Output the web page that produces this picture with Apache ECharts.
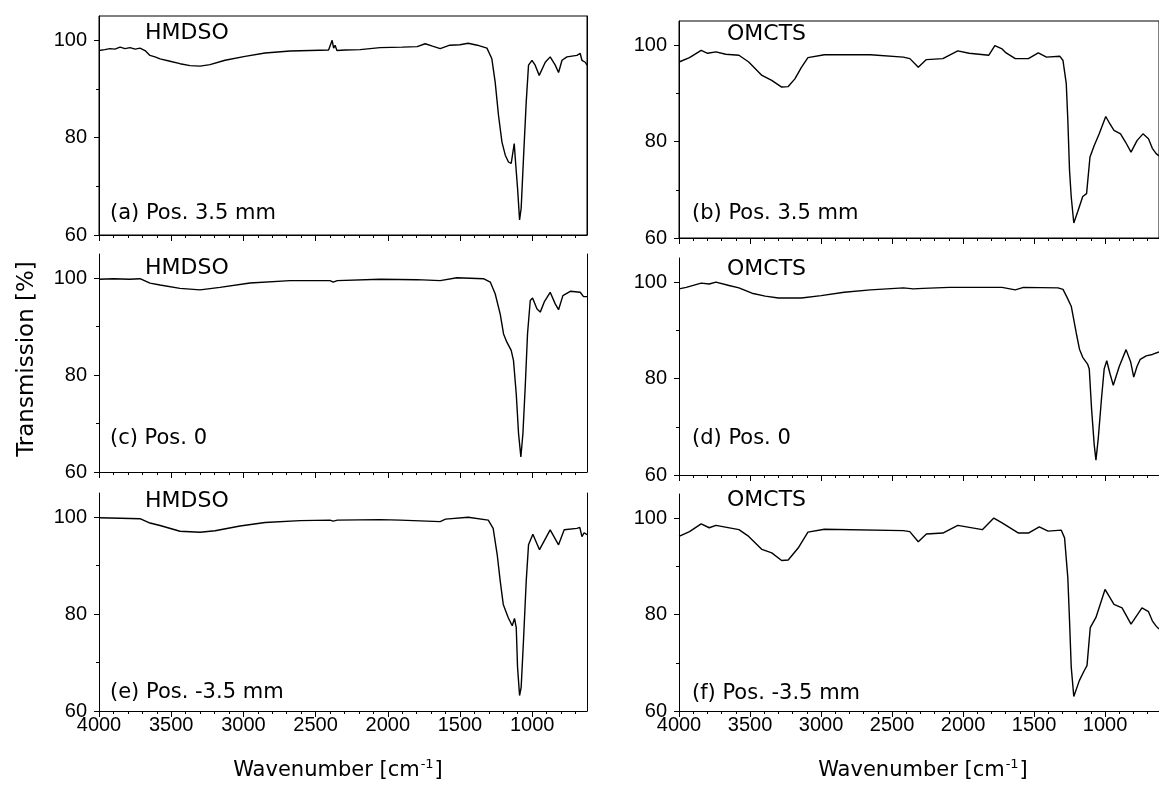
<!DOCTYPE html>
<html>
<head>
<meta charset="utf-8">
<script src="https://cdn.jsdelivr.net/npm/echarts@6/dist/echarts.min.js"></script>
<style>
  html, body { margin: 0; padding: 0; background: #fff; }
  #chart { width: 1159px; height: 787px; }
</style>
</head>
<body>
<div id="chart"></div>
<script>
// ==== DATA (wavenumber [cm-1], transmission [%]) ====
var xMajorTicks = [4000, 3500, 3000, 2500, 2000, 1500, 1000];
var xMinorTicks = [4000, 3900, 3800, 3700, 3600, 3500, 3400, 3300, 3200, 3100, 3000, 2900, 2800, 2700,
  2600, 2500, 2400, 2300, 2200, 2100, 2000, 1900, 1800, 1700, 1600, 1500, 1400, 1300, 1200, 1100,
  1000, 900, 800, 700];
var yMajorTicks = [60, 80, 100];
var yMinorTicks = [70, 90];

var panelNames = ["HMDSO", "OMCTS", "HMDSO", "OMCTS", "HMDSO", "OMCTS"];
var panelTags = ["(a) Pos. 3.5 mm", "(b) Pos. 3.5 mm", "(c) Pos. 0", "(d) Pos. 0",
  "(e) Pos. -3.5 mm", "(f) Pos. -3.5 mm"];

var specA = [[4000, 97.9], [3960, 98.1], [3924, 98.3], [3890, 98.2], [3854, 98.6], [3820, 98.3],
  [3785, 98.5], [3750, 98.2], [3716, 98.4], [3681, 97.9], [3647, 96.9], [3612, 96.6], [3577, 96.2],
  [3508, 95.7], [3439, 95.2], [3369, 94.8], [3300, 94.7], [3231, 95.0], [3127, 95.9], [2988, 96.7],
  [2850, 97.4], [2676, 97.8], [2538, 97.9], [2410, 98.0], [2385, 100.0], [2375, 98.4], [2365, 99.0],
  [2352, 97.9], [2295, 98.0], [2191, 98.1], [2053, 98.5], [1900, 98.6], [1796, 98.7], [1741, 99.3],
  [1690, 98.8], [1637, 98.3], [1570, 99.0], [1500, 99.1], [1443, 99.4], [1380, 99.0], [1313, 98.4],
  [1279, 96.2], [1256, 91.4], [1233, 84.6], [1209, 79.1], [1186, 76.4], [1164, 75.0], [1145, 74.7],
  [1124, 78.8], [1115, 75.0], [1101, 69.6], [1087, 63.1], [1076, 65.5], [1060, 75.7], [1041, 87.3],
  [1025, 94.9], [1001, 95.9], [979, 94.9], [951, 92.8], [909, 95.5], [875, 96.6], [840, 94.9],
  [817, 93.4], [793, 95.9], [759, 96.6], [690, 96.9], [667, 97.3], [655, 95.9], [632, 95.5], [620, 94.9]];

var specB = [[4000, 96.5], [3926, 97.4], [3844, 98.9], [3798, 98.3], [3740, 98.6], [3671, 98.1],
  [3578, 97.9], [3509, 96.5], [3416, 93.7], [3347, 92.7], [3277, 91.3], [3231, 91.4], [3184, 93.0],
  [3138, 95.4], [3092, 97.4], [2976, 98.0], [2652, 98.0], [2420, 97.5], [2374, 97.2], [2315, 95.4],
  [2258, 97.0], [2142, 97.2], [2037, 98.8], [1957, 98.3], [1818, 97.9], [1776, 99.9], [1725, 99.2],
  [1702, 98.5], [1632, 97.2], [1540, 97.2], [1470, 98.4], [1412, 97.5], [1319, 97.7], [1296, 96.8],
  [1273, 92.0], [1262, 84.4], [1250, 74.0], [1238, 68.5], [1220, 63.1], [1192, 65.5], [1157, 68.6],
  [1130, 69.2], [1106, 76.8], [1076, 79.2], [1041, 81.6], [995, 85.2], [972, 84.0], [937, 82.3],
  [891, 81.6], [856, 79.9], [817, 77.8], [775, 80.2], [733, 81.6], [694, 80.6], [667, 78.6],
  [640, 77.5], [620, 77.0]];

var specC = [[4000, 99.8], [3900, 99.9], [3790, 99.8], [3716, 99.9], [3647, 99.0], [3577, 98.6],
  [3439, 97.9], [3300, 97.6], [3162, 98.1], [2954, 99.0], [2676, 99.5], [2400, 99.5], [2378, 99.2],
  [2350, 99.5], [2053, 99.8], [1800, 99.7], [1637, 99.5], [1521, 100.1], [1337, 99.9], [1290, 99.2],
  [1256, 96.8], [1221, 92.6], [1198, 88.5], [1175, 86.8], [1145, 85.1], [1129, 83.0], [1110, 76.1],
  [1094, 67.9], [1078, 63.1], [1064, 67.9], [1048, 77.5], [1032, 88.5], [1013, 95.4], [997, 95.9],
  [967, 93.7], [944, 93.0], [916, 95.1], [875, 97.1], [840, 94.7], [817, 93.5], [787, 96.4],
  [736, 97.3], [667, 97.1], [644, 96.2], [620, 96.2]];

var specD = [[4000, 98.6], [3949, 98.9], [3844, 99.8], [3787, 99.6], [3740, 100.0], [3648, 99.3],
  [3578, 98.8], [3486, 97.7], [3393, 97.1], [3300, 96.7], [3138, 96.7], [2999, 97.2], [2837, 97.9],
  [2652, 98.4], [2420, 98.8], [2350, 98.6], [2281, 98.7], [2096, 98.9], [1725, 98.9], [1632, 98.4],
  [1574, 98.9], [1331, 98.8], [1296, 98.5], [1270, 97.0], [1238, 95.0], [1203, 89.5], [1180, 86.1],
  [1157, 84.4], [1123, 83.0], [1111, 82.0], [1095, 73.8], [1076, 66.2], [1064, 63.1], [1048, 67.5],
  [1025, 75.8], [1006, 82.0], [988, 83.7], [965, 81.0], [942, 78.6], [900, 82.5], [852, 86.0],
  [820, 83.5], [798, 80.3], [775, 82.5], [752, 84.0], [710, 84.7], [667, 85.0], [620, 85.5]];

var specE = [[4000, 99.9], [3850, 99.8], [3716, 99.7], [3647, 98.8], [3577, 98.3], [3439, 97.1],
  [3300, 96.9], [3196, 97.2], [3023, 98.2], [2850, 98.9], [2607, 99.3], [2400, 99.4], [2378, 99.2],
  [2350, 99.4], [2053, 99.5], [1914, 99.4], [1637, 99.1], [1600, 99.6], [1443, 100.0], [1304, 99.4],
  [1270, 97.7], [1242, 92.3], [1221, 86.8], [1200, 82.0], [1166, 79.3], [1138, 77.6], [1122, 79.1],
  [1110, 77.2], [1101, 69.0], [1087, 63.2], [1076, 64.9], [1060, 74.5], [1041, 86.8], [1025, 94.3],
  [995, 96.5], [949, 93.3], [875, 97.4], [817, 94.3], [778, 97.4], [690, 97.7], [670, 97.9],
  [655, 96.0], [640, 96.8], [620, 96.4]];

var specF = [[4000, 96.2], [3926, 97.2], [3844, 98.8], [3787, 98.0], [3740, 98.5], [3578, 97.6],
  [3509, 96.2], [3416, 93.5], [3347, 92.8], [3277, 91.2], [3231, 91.3], [3161, 93.8], [3092, 97.1],
  [2976, 97.7], [2420, 97.4], [2375, 97.2], [2315, 95.1], [2258, 96.7], [2142, 96.9], [2037, 98.5],
  [1864, 97.6], [1783, 100.0], [1725, 99.0], [1609, 96.9], [1540, 96.9], [1463, 98.2], [1401, 97.3],
  [1308, 97.5], [1285, 95.9], [1262, 87.6], [1250, 78.7], [1238, 69.1], [1220, 63.0], [1181, 66.3],
  [1146, 68.4], [1127, 69.4], [1104, 77.3], [1064, 79.4], [1000, 85.2], [937, 82.1], [880, 81.4],
  [817, 78.0], [740, 81.4], [694, 80.6], [667, 78.7], [640, 77.6], [620, 77.0]];

var spectra = [specA, specB, specC, specD, specE, specF];

// ==== LAYOUT ====
var gridPos = [
  { left: 99, top: 16, height: 219 },
  { left: 679, top: 21, height: 217 },
  { left: 99, top: 254, height: 218 },
  { left: 679, top: 258, height: 217 },
  { left: 99, top: 493, height: 218 },
  { left: 679, top: 494, height: 217 }
];
var nameSpots = [[145, 33], [727, 34], [145, 268], [727, 269], [145, 501], [727, 500]];
var tagSpots = [[110, 214], [692, 214], [110, 439], [692, 439], [110, 693], [692, 694]];

var tickFont = "Liberation Sans, Arial, sans-serif";
var textFont = "DejaVu Sans, sans-serif";

function plainNum(v) {
  return String(v);
}

var grids = [], xAxes = [], yAxes = [], series = [], graphics = [];

spectra.forEach(function (data, i) {
  var row = Math.floor(i / 2);
  var p = gridPos[i];
  grids.push({
    left: p.left, top: p.top, width: 488, height: p.height,
    show: row === 0, borderColor: "#000", borderWidth: 1, backgroundColor: "transparent"
  });

  // major ticks + labels
  xAxes.push({
    type: "value", gridIndex: i, min: 620, max: 4000, inverse: true, position: "bottom",
    axisLine: { show: true, onZero: false, lineStyle: { color: "#000", width: 1 } },
    axisTick: { show: true, length: 6, customValues: xMajorTicks, lineStyle: { color: "#000" } },
    axisLabel: { show: row === 2, customValues: xMajorTicks, margin: 4, fontSize: 20,
      fontFamily: tickFont, color: "#000", formatter: plainNum },
    splitLine: { show: false }
  });
  // minor ticks
  xAxes.push({
    type: "value", gridIndex: i, min: 620, max: 4000, inverse: true, position: "bottom",
    axisLine: { show: false, onZero: false },
    axisTick: { show: true, length: 3, customValues: xMinorTicks, lineStyle: { color: "#000" } },
    axisLabel: { show: false },
    splitLine: { show: false }
  });

  yAxes.push({
    type: "value", gridIndex: i, min: 60, max: 105, position: "left",
    axisLine: { show: true, onZero: false, lineStyle: { color: "#000", width: 1 } },
    axisTick: { show: true, length: 5, customValues: yMajorTicks, lineStyle: { color: "#000" } },
    axisLabel: { show: true, customValues: yMajorTicks, margin: 12, fontSize: 20,
      fontFamily: tickFont, color: "#000", formatter: plainNum },
    splitLine: { show: false }
  });
  yAxes.push({
    type: "value", gridIndex: i, min: 60, max: 105, position: "left",
    axisLine: { show: false, onZero: false },
    axisTick: { show: true, length: 3, customValues: yMinorTicks, lineStyle: { color: "#000" } },
    axisLabel: { show: false },
    splitLine: { show: false }
  });
  // right frame line
  yAxes.push({
    type: "value", gridIndex: i, min: 60, max: 105, position: "right",
    axisLine: { show: true, onZero: false, lineStyle: { color: "#000", width: 1 } },
    axisTick: { show: false }, axisLabel: { show: false }, splitLine: { show: false }
  });

  series.push({
    type: "line", xAxisIndex: 2 * i, yAxisIndex: 3 * i, data: data,
    symbol: "none", showSymbol: false, silent: true,
    lineStyle: { color: "#000", width: 1.4 }
  });

  graphics.push({
    type: "text", silent: true,
    style: { text: panelNames[i], x: nameSpots[i][0], y: nameSpots[i][1],
      font: "22px " + textFont, fill: "#000",
      textAlign: "left", textVerticalAlign: "middle" }
  });
  graphics.push({
    type: "text", silent: true,
    style: { text: panelTags[i], x: tagSpots[i][0], y: tagSpots[i][1],
      font: "21px " + textFont, fill: "#000",
      textAlign: "left", textVerticalAlign: "middle" }
  });
});

// axis titles
graphics.push({
  type: "text", silent: true, rotation: Math.PI / 2, x: 27, y: 359,
  style: { text: "Transmission [%]", x: 0, y: 0, font: "23px " + textFont, fill: "#000",
    textAlign: "center", textVerticalAlign: "middle" }
});
[338, 923].forEach(function (cx) {
  graphics.push({
    type: "text", silent: true,
    style: {
      text: "{n|Wavenumber [cm}{s|-1}{n|]}", x: cx, y: 771,
      fill: "#000", textAlign: "center", textVerticalAlign: "middle",
      rich: {
        n: { fontSize: 21, fontFamily: textFont, fill: "#000", lineHeight: 26 },
        s: { fontSize: 13, fontFamily: textFont, fill: "#000", verticalAlign: "top",
          lineHeight: 26, padding: [0, 1, 0, 1] }
      }
    }
  });
});

var chart = echarts.init(document.getElementById("chart"));
chart.setOption({
  animation: false,
  backgroundColor: "#fff",
  grid: grids,
  xAxis: xAxes,
  yAxis: yAxes,
  series: series,
  graphic: { elements: graphics }
});
</script>
</body>
</html>
